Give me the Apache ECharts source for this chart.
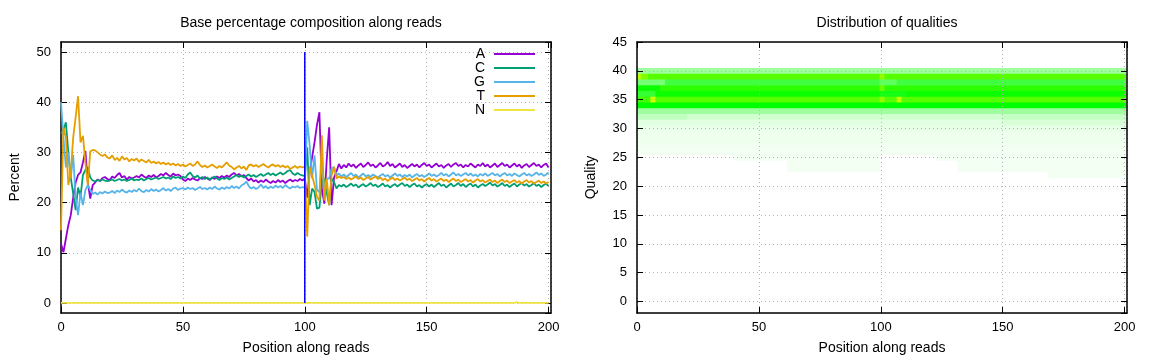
<!DOCTYPE html>
<html><head><meta charset="utf-8">
<script src="https://cdn.jsdelivr.net/npm/echarts@6/dist/echarts.min.js"></script>
<style>html,body{margin:0;padding:0;background:#fff}#c{width:1152px;height:360px}</style>
</head><body><div id="c"></div>
<script>
// ---- Base composition (percent) per read position 0..200 ----
const A = [11.8,10.1,12.8,15.5,17.5,21,24,25.5,26,28,
30.3,24,20.8,23.5,24,24.6,24.3,24.9,25.1,24.7,
24.5,25.2,24.9,25.5,25.9,25.0,25.3,24.6,25.1,24.8,
25.0,25.3,25.0,25.6,25.2,24.9,25.4,25.1,25.5,25.0,
25.3,25.7,25.4,25.9,25.5,25.2,25.8,25.4,25.6,25.3,
24.6,24.3,24.8,24.5,24.9,24.6,24.4,24.9,24.7,25.1,
24.8,24.5,25.0,24.7,25.2,24.9,25.3,25.0,25.4,25.1,
25.6,25.9,25.4,25.7,25.2,25.5,24.9,24.4,24.8,24.2,
24.5,24.0,24.4,24.1,24.6,24.2,23.9,24.3,24.0,24.5,
24.1,24.4,23.9,24.3,24.6,24.2,24.5,24.3,24.7,24.4,
24.8,21,26,29,32,35.5,38,22.8,19.8,28.5,
35,19.5,25,26.2,27.7,26.8,27.5,27.0,27.8,27.2,
27.6,26.9,27.4,27.8,27.1,27.5,28.0,27.3,27.6,27.0,
27.4,27.9,27.2,27.5,28.1,27.3,27.7,27.0,27.4,27.8,
27.1,27.5,26.9,27.3,27.7,27.2,27.6,27.0,27.5,27.9,
27.3,27.6,27.0,27.4,27.8,27.2,27.5,26.9,27.4,27.7,
27.1,27.6,27.9,27.3,27.6,27.0,27.5,27.2,27.8,27.4,
27.0,27.6,27.3,27.9,27.2,27.6,27.0,27.4,27.8,27.1,
27.5,27.9,27.3,27.6,27.0,27.4,27.8,27.2,27.6,26.9,
27.4,27.7,27.1,27.5,27.9,27.3,27.6,27.0,27.5,27.8,27.0];
const C = [33.7,34.5,36,30,25,21.8,18.5,23,21.2,25.5,
26.5,27,25,24.4,24.2,24.5,24.3,24.6,24.4,24.3,
24.4,24.6,24.3,24.5,24.7,24.4,24.6,24.3,24.5,24.8,
24.4,24.6,24.5,24.8,24.4,24.7,24.9,24.6,24.8,25.0,
24.7,24.9,25.1,24.8,25.0,24.7,25.2,24.9,25.1,24.8,
25.2,24.9,25.6,26.0,25.3,25.0,25.4,24.8,25.1,24.7,
25.0,24.6,24.9,25.2,24.8,24.5,24.9,24.7,25.0,24.6,
24.9,25.2,25.5,25.1,25.4,25.0,25.3,25.6,25.2,25.5,
25.1,25.4,25.7,25.3,25.6,25.9,25.5,25.8,25.4,25.7,
26.0,25.6,25.9,26.3,26.5,25.8,25.5,25.9,25.6,25.4,
25.3,31,19.5,22.8,22.1,18.8,19,24,24.8,22,
19.5,24.8,24.1,22.8,23.5,23.2,23.6,23.1,23.4,23.8,
23.3,23.6,23.0,23.4,23.7,23.2,23.5,23.9,23.3,23.6,
23.1,23.4,23.8,23.2,23.5,23.0,23.4,23.7,23.2,23.6,
23.9,23.3,23.6,23.1,23.5,23.8,23.2,23.5,23.0,23.4,
23.7,23.2,23.6,23.1,23.5,23.9,23.3,23.6,23.0,23.4,
23.8,23.2,23.5,23.9,23.3,23.7,23.1,23.5,23.8,23.2,
23.6,23.0,23.4,23.7,23.3,23.6,24.0,23.4,23.7,23.2,
23.5,23.9,23.3,23.6,23.1,23.5,23.8,23.2,23.6,23.9,
23.4,23.7,23.2,23.5,23.9,23.3,23.6,23.1,23.5,23.8,23.3];
const G = [40,33,27,30,24.8,29.5,21,17.5,22,19.5,
22.5,23.5,22.5,21.7,22.0,21.6,22.1,21.8,22.2,21.9,
22.0,22.3,21.9,22.4,22.1,22.6,22.2,22.0,22.4,22.1,
22.5,22.2,22.8,22.3,22.1,22.5,22.2,22.7,22.3,22.6,
22.2,22.5,22.9,22.4,22.7,22.3,22.8,23.0,22.5,22.8,
22.9,22.6,23.0,22.7,22.9,22.5,22.8,23.1,22.7,22.9,
22.6,23.0,22.7,23.2,22.8,22.6,23.0,22.7,23.1,22.8,
23.3,22.9,23.2,22.8,23.4,23.7,24.2,23.3,22.8,23.1,
22.7,23.0,23.6,22.9,23.3,22.8,23.2,22.9,23.4,23.0,
23.3,22.9,23.5,23.1,22.8,23.2,23.0,23.3,22.9,23.1,
23.0,36.3,31.4,24.8,29.4,22.5,22.1,28,22.5,24.8,
24.8,26.8,27.1,25.4,25.8,25.2,25.6,25.1,25.5,25.9,
25.3,25.6,25.0,25.4,25.8,25.2,25.5,25.1,25.6,25.3,
25.0,25.4,25.7,25.2,25.5,25.0,25.4,25.8,25.3,25.6,
25.1,25.5,25.2,25.6,25.0,25.4,25.7,25.2,25.5,25.1,
25.4,25.8,25.3,25.6,25.2,25.5,25.9,25.4,25.7,25.2,
25.6,26.0,25.4,25.7,25.3,25.6,25.9,25.4,25.8,25.3,
25.6,25.2,25.7,25.4,25.8,25.3,25.6,25.9,25.4,25.7,
25.2,25.6,25.9,25.4,25.7,25.3,25.8,25.5,25.2,25.6,
25.9,25.4,25.7,25.3,25.6,26.0,25.5,25.8,25.3,25.6,26.0];
const T = [14.5,35,33,23.5,26,33,37,41.2,32,33.3,
28,23.5,30.2,30.5,30.4,30.0,29.6,29.3,29.6,29.0,
28.8,29.4,28.5,28.9,28.3,29.2,28.6,28.9,28.2,28.7,
28.4,28.8,28.1,28.6,28.3,28.0,28.5,27.9,28.2,27.8,
28.1,27.7,28.0,27.6,27.9,27.5,27.8,27.4,27.7,27.3,
27.6,27.2,27.5,27.8,27.3,27.6,28.2,27.5,27.1,27.4,
27.0,27.3,27.6,27.2,26.9,27.3,27.0,27.5,28.0,27.4,
27.1,26.6,27.0,27.3,26.8,27.2,26.5,27.4,27.6,27.2,
27.5,27.1,27.4,27.7,27.3,27.0,27.4,27.6,27.2,27.5,
27.1,27.4,27.0,27.3,26.7,27.0,27.3,26.9,27.2,27.0,
27.1,13.2,27.1,25.4,23.5,21.1,20.4,33.4,20.4,24.8,
19.5,25.4,27.1,24.8,25.2,24.9,25.1,24.7,25.0,24.6,
24.9,25.2,24.7,25.0,24.5,24.8,25.1,24.6,24.9,25.2,
24.7,25.0,24.5,24.8,24.3,24.7,25.0,24.5,24.8,24.4,
24.7,25.0,24.5,24.8,24.3,24.6,24.9,24.4,24.7,24.2,
24.6,24.9,24.4,24.7,24.2,24.5,24.8,24.3,24.6,24.1,
24.5,24.8,24.3,24.6,24.1,24.4,24.7,24.2,24.5,24.0,
24.4,24.7,24.2,24.5,24.0,24.3,24.6,24.1,24.4,23.9,
24.3,24.6,24.1,24.4,23.9,24.2,24.5,24.0,24.3,23.8,
24.2,24.5,24.0,24.3,23.8,24.1,24.4,23.9,24.2,23.8,24.1];
const N = [
0,0,0,0,0,0,0,0,0,0, 0,0,0,0,0,0,0,0,0,0,
0,0,0,0,0,0,0,0,0,0, 0,0,0,0,0,0,0,0,0,0,
0,0,0,0,0,0,0,0,0,0, 0,0,0,0,0,0,0,0,0,0,
0,0,0,0,0,0,0,0,0,0, 0,0,0,0,0,0,0,0,0,0,
0,0,0,0,0,0,0,0,0,0, 0,0,0,0,0,0,0,0,0,0,
0,0,0,0,0,0,0,0,0,0, 0,0,0,0,0,0,0,0,0,0,
0,0,0,0,0,0,0,0,0,0, 0,0,0,0,0,0,0,0,0,0,
0,0,0,0,0,0,0,0,0,0, 0,0,0,0,0,0,0,0,0,0,
0,0,0,0,0,0,0,0,0,0, 0,0,0,0,0,0,0,0,0,0,
0,0,0,0,0,0,0,0.2,0,0, 0,0,0,0,0,0,0,0,0,0,
0];
const bases = ['A','C','G','T','N'];
const baseColors = ['#9400d3','#009e73','#56b4e9','#e69f00','#f0e442'];
const readSplit = [[100, 0], [100, 50]];

// ---- Quality distribution (% of reads), runs: [fromPos, toPos, percent] ----
const q40 = [[0,200,4.5]];
const q39 = [[0,1,21],[2,4,18],[5,99,16],[100,101,19],[102,200,16]];
const q38 = [[0,11,6.5],[12,99,9],[100,106,7.5],[107,200,9]];
const q37 = [[0,9,12.5],[10,99,14],[100,101,17],[102,200,14]];
const q36 = [[0,7,9.5],[8,99,12.5],[100,110,11],[111,200,12.5]];
const q35 = [[0,5,15],[6,7,22],[8,99,16],[100,101,19],[102,106,16],[107,108,21],[109,200,16]];
const q34 = [[0,200,12]];
const q33 = [[0,200,4.5]];
const q32 = [[0,20,3],[21,149,2.2],[150,200,2.8]];
const q31 = [[0,99,1.4],[100,149,1.3],[150,200,1.8]];
const q30 = [[0,99,1.0],[100,200,1.2]];
const q29 = [[0,200,0.8]];
const q28 = [[0,200,0.8]];
const q27 = [[0,200,0.7]];
const q26 = [[0,200,0.6]];
const q25 = [[40,99,0.6],[123,200,0.6]];
const q24 = [[62,99,0.55],[132,200,0.55]];
const q23 = [[62,99,0.5],[132,200,0.5]];
const q22 = [[169,200,0.5]];
const qualityRows = [[40,q40],[39,q39],[38,q38],[37,q37],[36,q36],[35,q35],[34,q34],[33,q33],[32,q32],
  [31,q31],[30,q30],[29,q29],[28,q28],[27,q27],[26,q26],[25,q25],[24,q24],[23,q23],[22,q22]];

const heatData = [];
qualityRows.forEach(([q, runs]) => runs.forEach(r => heatData.push([r[0], r[1], q, r[2]])));

const FONT = 'Liberation Sans';
const FS = 13;
const FS2 = 14;
const gridLine = { show: true, lineStyle: { type: [1, 3], color: '#b4b4b4', width: 1 } };
const frameLine = { show: true, onZero: false, lineStyle: { color: '#000', width: 1.5 } };
const tick = { show: true, inside: true, length: 6, lineStyle: { color: '#000', width: 1 } };
const lbl = { color: '#000', fontFamily: FONT, fontSize: FS };

function xAxes(gi, z) {
  return [
    { gridIndex: gi, type: 'value', position: 'bottom', min: 0, max: 201, splitNumber: 4, z: z,
      axisLine: frameLine, axisTick: tick, splitLine: gridLine,
      axisLabel: Object.assign({ margin: 8, showMaxLabel: false }, lbl),
      name: 'Position along reads', nameLocation: 'middle', nameGap: 28,
      nameTextStyle: { color: '#000', fontFamily: FONT, fontSize: FS2 } },
    { gridIndex: gi, type: 'value', position: 'top', min: 0, max: 201, splitNumber: 4, z: z,
      axisLine: frameLine, axisTick: tick, splitLine: { show: false }, axisLabel: { show: false } }
  ];
}
function yAxes(gi, min, max, split, name, z) {
  return [
    { gridIndex: gi, type: 'value', position: 'left', min: min, max: max, splitNumber: split, z: z,
      axisLine: frameLine, axisTick: tick, splitLine: gridLine,
      axisLabel: Object.assign({ margin: 10, showMinLabel: false, showMaxLabel: max % 5 === 0 }, lbl),
      name: name, nameLocation: 'middle', nameGap: 39,
      nameTextStyle: { color: '#000', fontFamily: FONT, fontSize: FS2 } },
    { gridIndex: gi, type: 'value', position: 'right', min: min, max: max, splitNumber: split, z: z,
      axisLine: frameLine, axisTick: tick, splitLine: { show: false }, axisLabel: { show: false } }
  ];
}

const series = bases.map((b, k) => ({
  type: 'line', name: b, xAxisIndex: 0, yAxisIndex: 0,
  data: [A, C, G, T, N][k].map((v, i) => [i, v]),
  symbol: 'none', lineStyle: { width: 1.8, color: baseColors[k] }, itemStyle: { color: baseColors[k] },
  z: 3
}));
series.push({
  type: 'line', name: 'split', xAxisIndex: 0, yAxisIndex: 0, data: readSplit,
  symbol: 'none', lineStyle: { width: 1.5, color: '#0000ff' }, z: 4
});
series.push({
  type: 'custom', name: 'quality', xAxisIndex: 2, yAxisIndex: 2, data: heatData,
  encode: { x: [0, 1], y: 2 }, z: 1,
  renderItem: function (params, api) {
    const x0 = api.value(0), x1 = api.value(1), q = api.value(2);
    const p0 = api.coord([x0 - 0.5, q + 0.5]);
    const p1 = api.coord([x1 + 0.5, q - 0.5]);
    const cs = params.coordSys;
    const r = echarts.graphic.clipRectByRect(
      { x: p0[0], y: p0[1], width: p1[0] - p0[0] + 0.6, height: p1[1] - p0[1] + 0.6 },
      { x: cs.x, y: cs.y, width: cs.width, height: cs.height });
    return r && { type: 'rect', shape: r, style: { fill: api.visual('color') } };
  }
});
const heatIndex = series.length - 1;

const option = {
  animation: false,
  backgroundColor: '#fff',
  textStyle: { fontFamily: FONT },
  title: [
    { text: 'Base percentage composition along reads', left: 306, top: 11, textAlign: 'center',
      textStyle: { fontFamily: FONT, fontSize: FS2, fontWeight: 'normal', color: '#000' } },
    { text: 'Distribution of qualities', left: 882, top: 11, textAlign: 'center',
      textStyle: { fontFamily: FONT, fontSize: FS2, fontWeight: 'normal', color: '#000' } }
  ],
  legend: {
    data: bases, orient: 'vertical', align: 'right', right: 617, top: 47, padding: 0,
    icon: 'rect', itemWidth: 41, itemHeight: 2, itemGap: 0, selectedMode: false,
    textStyle: { fontFamily: FONT, fontSize: FS2, color: '#000', padding: [0, 4, 0, 0] }
  },
  grid: [
    { left: 61, top: 42, width: 490, height: 273 },
    { left: 637, top: 42, width: 490, height: 273 }
  ],
  xAxis: xAxes(0, 0).concat(xAxes(1, 5)),
  yAxis: yAxes(0, -2, 52, 5, 'Percent', 0).concat(yAxes(1, -2, 45, 9, 'Quality', 5)),
  visualMap: {
    type: 'continuous', show: false, seriesIndex: heatIndex, dimension: 3, min: 0, max: 24,
    inRange: { color: ['#ffffff', '#00ff00', '#ffff00'] }
  },
  series: series
};
const chart = echarts.init(document.getElementById('c'), null, { renderer: 'canvas' });
chart.setOption(option);
</script>
</body></html>
